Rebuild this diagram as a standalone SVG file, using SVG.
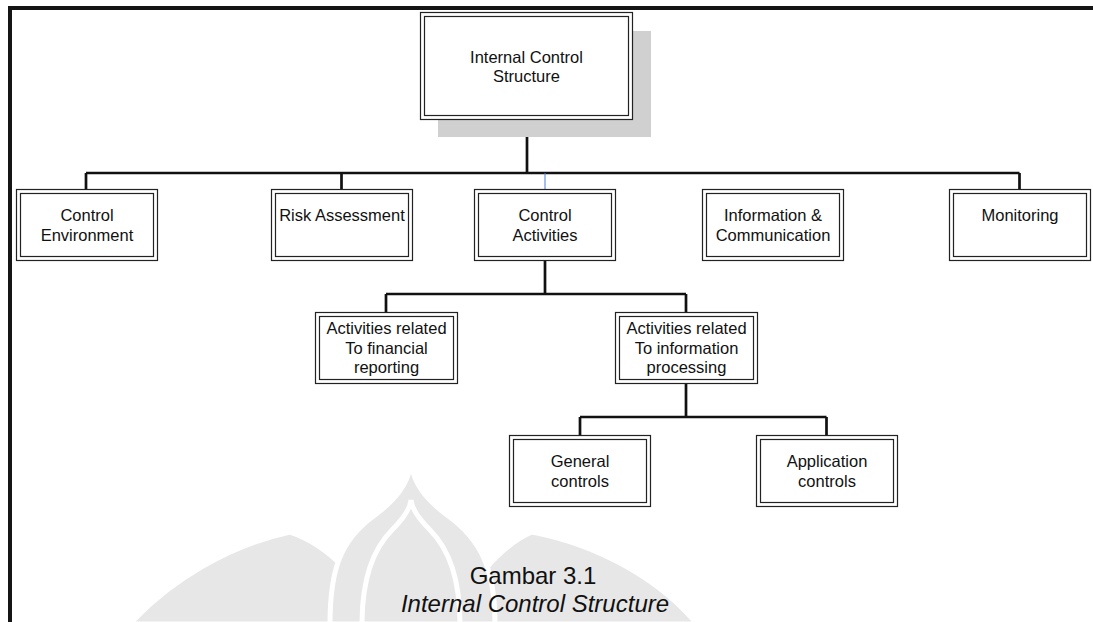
<svg xmlns="http://www.w3.org/2000/svg" width="1093" height="622" viewBox="0 0 1093 622">
<style>
.o{fill:#fff;stroke:#222;stroke-width:1.2}
.i{fill:none;stroke:#222;stroke-width:1.2}
.t{font-family:"Liberation Sans",Arial,sans-serif;font-size:16.5px;fill:#111;text-anchor:middle}
.c{font-family:"Liberation Sans",Arial,sans-serif;font-size:24px;fill:#111;text-anchor:middle}
.wm{fill:#e7e7e7;stroke:#fff;stroke-width:5}
.ln{stroke:#111;stroke-width:2.7;fill:none}
</style>
<rect width="1093" height="622" fill="#fff"/>
<g id="watermark">
<path class="wm" d="M130,624 C170,580 230,545 290,532 C330,545 365,585 385,624 Z"/>
<path class="wm" d="M445,624 C470,585 500,545 532,532 C600,545 660,580 697,624 Z"/>
<path class="wm" d="M330,624 C330,570 340,540 375,515 C395,500 408,485 411,463 C414,485 427,500 447,515 C482,540 495,570 495,624 Z"/>
<path class="wm" d="M362,624 C362,580 372,550 392,530 C402,520 410,510 411,500 C412,510 420,520 430,530 C450,550 460,580 460,624 Z"/>
</g>
<path id="frame" d="M10,622 V8 H1093" fill="none" stroke="#151515" stroke-width="4"/>
<g id="connectors">
<path class="ln" d="M527,120 V173 M86,173 H1019.5 M86,173 V189 M341.5,173 V189 M1019.5,173 V189"/>
<path d="M545,173 V189" stroke="#4a7fd4" stroke-width="1"/>
<path class="ln" d="M545,260 V294 M386,294 H686 M386,294 V312 M686,294 V312"/>
<path class="ln" d="M686,383 V417 M580,417 H826.5 M580,417 V435 M826.5,417 V435"/>
</g>
<g id="n-top">
<rect x="438" y="31" width="213" height="106" fill="#d0d0d0"/>
<rect class="o" x="420.5" y="12.5" width="212" height="107"/>
<rect class="i" x="424.5" y="16.5" width="204" height="99"/>
<text class="t" x="526.5" y="63">Internal Control</text>
<text class="t" x="526.5" y="82">Structure</text>
</g>
<g id="n-ce">
<rect class="o" x="16.5" y="189.5" width="141" height="71"/>
<rect class="i" x="20.5" y="193.5" width="133" height="63"/>
<text class="t" x="87" y="221">Control</text>
<text class="t" x="87" y="241">Environment</text>
</g>
<g id="n-ra">
<rect class="o" x="271.5" y="189.5" width="141" height="71"/>
<rect class="i" x="275.5" y="193.5" width="133" height="63"/>
<text class="t" x="342" y="221">Risk Assessment</text>
</g>
<g id="n-ca">
<rect class="o" x="474.5" y="189.5" width="141" height="71"/>
<rect class="i" x="478.5" y="193.5" width="133" height="63"/>
<text class="t" x="545" y="221">Control</text>
<text class="t" x="545" y="241">Activities</text>
</g>
<g id="n-ic">
<rect class="o" x="702.5" y="189.5" width="141" height="71"/>
<rect class="i" x="706.5" y="193.5" width="133" height="63"/>
<text class="t" x="773" y="221">Information &amp;</text>
<text class="t" x="773" y="241">Communication</text>
</g>
<g id="n-mo">
<rect class="o" x="949.5" y="189.5" width="141" height="71"/>
<rect class="i" x="953.5" y="193.5" width="133" height="63"/>
<text class="t" x="1020" y="221">Monitoring</text>
</g>
<g id="n-fin">
<rect class="o" x="315.5" y="312.5" width="142" height="71"/>
<rect class="i" x="319.5" y="316.5" width="134" height="63"/>
<text class="t" x="386.5" y="334">Activities related</text>
<text class="t" x="386.5" y="354">To financial</text>
<text class="t" x="386.5" y="373">reporting</text>
</g>
<g id="n-info">
<rect class="o" x="615.5" y="312.5" width="142" height="71"/>
<rect class="i" x="619.5" y="316.5" width="134" height="63"/>
<text class="t" x="686.5" y="334">Activities related</text>
<text class="t" x="686.5" y="354">To information</text>
<text class="t" x="686.5" y="373">processing</text>
</g>
<g id="n-gen">
<rect class="o" x="509.5" y="435.5" width="141" height="71"/>
<rect class="i" x="513.5" y="439.5" width="133" height="63"/>
<text class="t" x="580" y="467">General</text>
<text class="t" x="580" y="487">controls</text>
</g>
<g id="n-app">
<rect class="o" x="756.5" y="435.5" width="141" height="71"/>
<rect class="i" x="760.5" y="439.5" width="133" height="63"/>
<text class="t" x="827" y="467">Application</text>
<text class="t" x="827" y="487">controls</text>
</g>
<g id="caption">
<text class="c" x="533" y="584">Gambar 3.1</text>
<text class="c" x="535" y="612" font-style="italic">Internal Control Structure</text>
</g>
</svg>
